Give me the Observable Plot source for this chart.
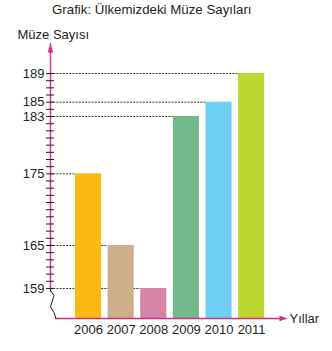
<!DOCTYPE html>
<html><head><meta charset="utf-8">
<script src="https://cdn.jsdelivr.net/npm/d3@7"></script>
<script src="https://cdn.jsdelivr.net/npm/@observablehq/plot@0.6"></script>
<style>
body{margin:0;background:#fff;font-family:"Liberation Sans",Arial,sans-serif;}
#title{height:22px;line-height:20px;font-size:13.3px;padding-left:52px;color:#231f20;white-space:nowrap}
</style></head><body>
<div id="title"></div>
<div id="chart"></div>
<script>
const title = "Grafik: Ülkemizdeki Müze Sayıları";
const yTitle = "Müze Sayısı";
const xTitle = "Yıllar";
const years = ["2006","2007","2008","2009","2010","2011"];
const museums = [175,165,159,183,185,189];
const barColors = ["#FDB913","#CCAE8B","#D684A6","#74B98D","#6DCFF2","#BDD630"];
const tickLabels = [159,165,175,183,185,189];
const tickValues = d3.range(159, 190);

document.getElementById("title").textContent = title;

const data = years.map((year, i) => ({year, i, value: museums[i]}));
const magenta = "#D92B87";
const ink = "#231f20";
const xMin = -1.166, xMax = 6.1;
const yMin = 154.81, yMax = 193.19;
const half = 0.4;

const arrowUp = {draw(c){c.moveTo(0,0);c.lineTo(-2.8,9);c.lineTo(2.8,9);c.closePath();}};
const arrowRight = {draw(c){c.moveTo(0,0);c.lineTo(-8,-2.8);c.lineTo(-8,2.8);c.closePath();}};
const axisBreak = {draw(c){c.moveTo(0,0);c.lineTo(0,2);c.lineTo(3.5,7);c.lineTo(0,18.5);c.lineTo(3.5,24);c.lineTo(5.5,30);}};

const plot = Plot.plot({
  width: 332,
  height: 329,
  marginLeft: 50,
  marginRight: 45,
  marginTop: 21,
  marginBottom: 33,
  style: {fontFamily: '"Liberation Sans", Arial, sans-serif', color: ink, background: "#fff"},
  x: {type: "linear", domain: [xMin, xMax]},
  y: {type: "linear", domain: [yMin, yMax]},
  color: {type: "ordinal", domain: years, range: barColors},
  marks: [
    Plot.ruleY(data, {y: "value", x1: xMin, x2: d => d.i - half, stroke: "#333", strokeDasharray: "2,1.2", strokeWidth: 1}),
    Plot.rect(data, {x1: d => d.i - half, x2: d => d.i + half, y1: yMin, y2: "value", fill: "year"}),
    Plot.ruleX([xMin], {y1: tickLabels[0], y2: yMax, insetTop: 4, stroke: magenta, strokeWidth: 1.4}),
    Plot.ruleY([yMin], {x1: xMin, x2: xMax, insetLeft: 5, insetRight: 4, stroke: magenta, strokeWidth: 1.4}),
    Plot.dot([0], {x: xMin, y: yMax, symbol: arrowUp, fill: magenta, stroke: "none"}),
    Plot.dot([0], {x: xMax, y: yMin, symbol: arrowRight, fill: magenta, stroke: "none"}),
    Plot.dot([0], {x: xMin, y: tickLabels[0], symbol: axisBreak, fill: "none", stroke: ink, strokeWidth: 1}),
    Plot.axisY({ticks: tickValues, tickSize: 8, dx: 4, tickPadding: 2, stroke: ink,
      tickFormat: d => tickLabels.includes(d) ? String(d) : "", fontSize: 13, label: null}),
    Plot.axisX({ticks: d3.range(years.length), tickFormat: i => years[i], tickSize: 0, tickPadding: 6, fontSize: 13, label: null}),
    Plot.text([yTitle], {frameAnchor: "top-left", dx: -33, dy: -9, textAnchor: "start", lineAnchor: "middle", fontSize: 13, fill: ink}),
    Plot.text([xTitle], {frameAnchor: "bottom-right", dx: 2, dy: 0, textAnchor: "start", lineAnchor: "middle", fontSize: 13, fill: ink})
  ]
});
document.getElementById("chart").appendChild(plot);
</script>
</body></html>
